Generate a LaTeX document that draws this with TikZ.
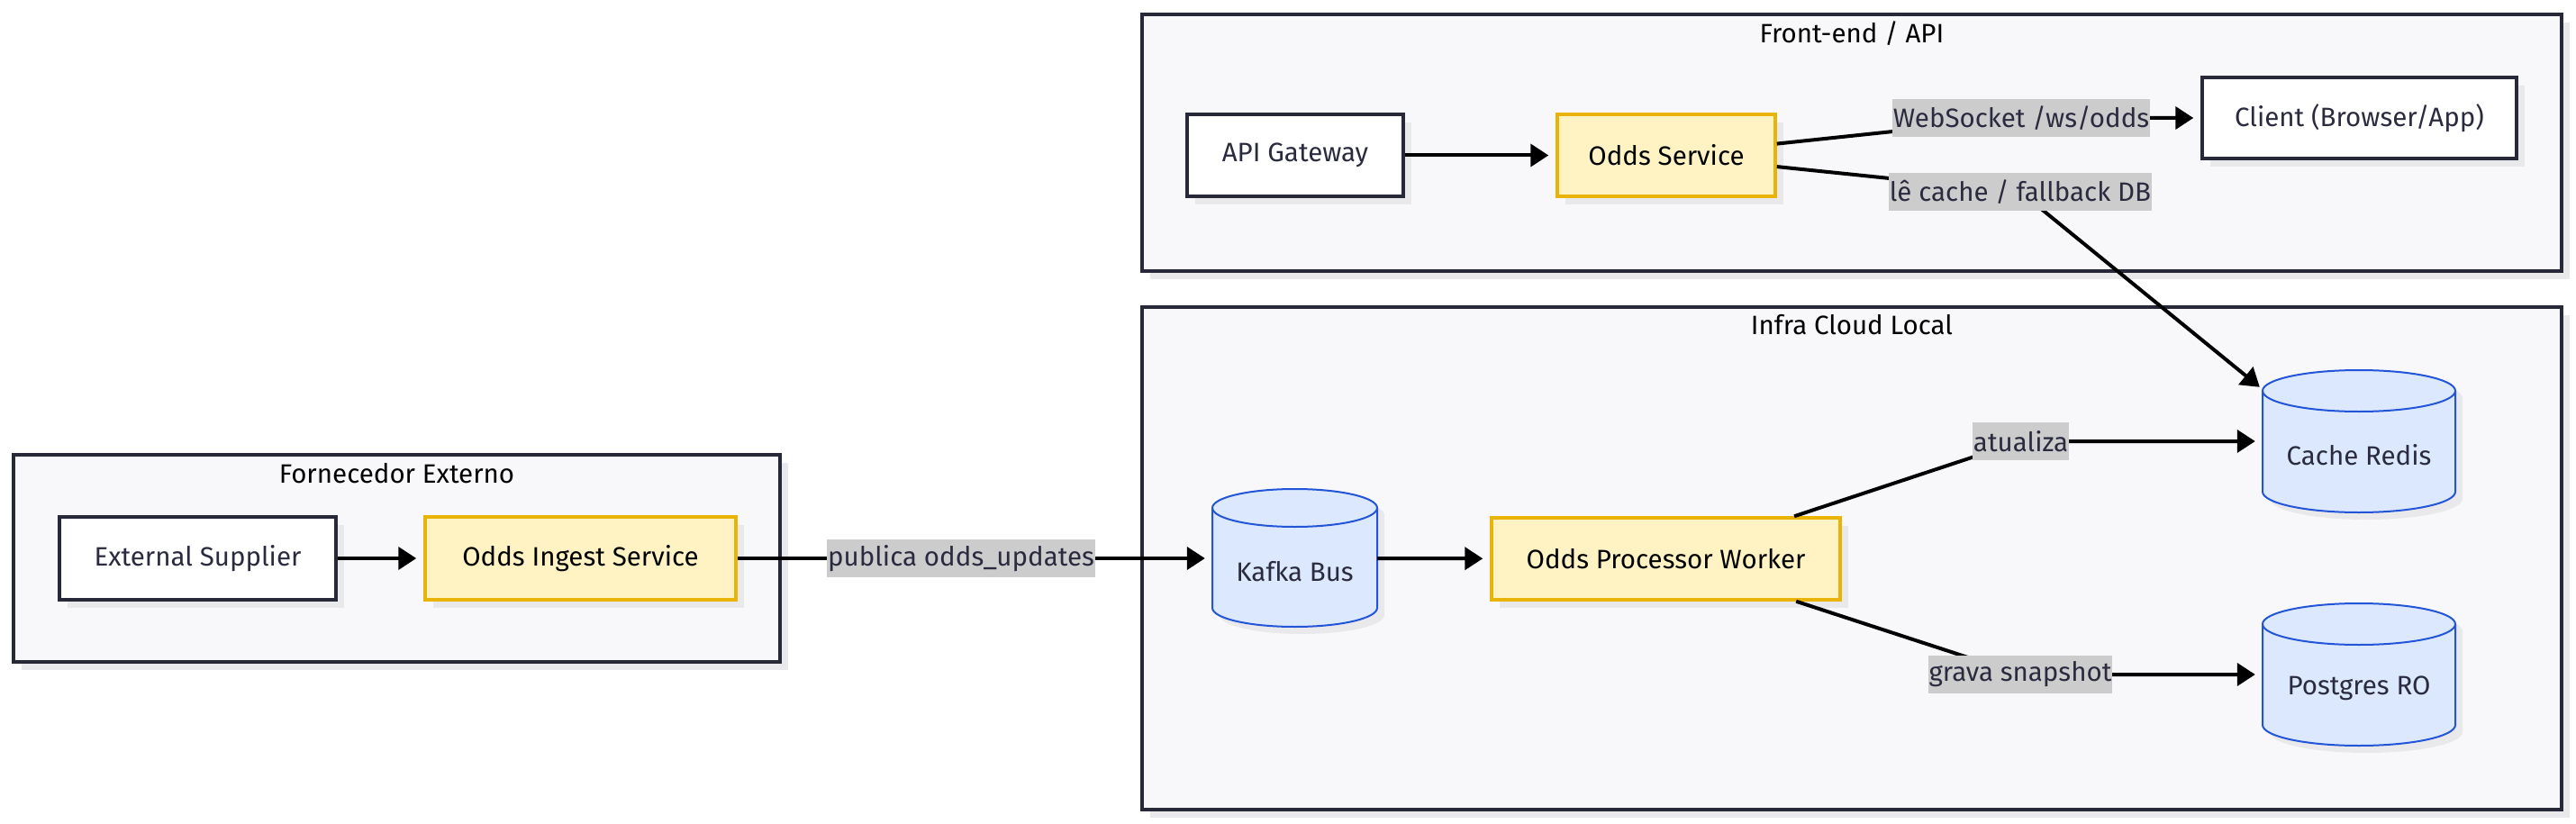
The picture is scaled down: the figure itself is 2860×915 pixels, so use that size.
\documentclass[tikz,border=0pt]{standalone}
\usepackage{fontspec}
\setmainfont{Fira Sans}
\usetikzlibrary{arrows.meta,shadows,calc}
\definecolor{clfill}{HTML}{F8F8FA}
\definecolor{navy}{HTML}{272838}
\definecolor{shadowc}{HTML}{E9E9EC}
\definecolor{yfill}{HTML}{FFF3C4}
\definecolor{yline}{HTML}{EAB308}
\definecolor{cfill}{HTML}{DBE8FD}
\definecolor{cline}{HTML}{2355D8}
\definecolor{lblbg}{HTML}{CCCCCC}
\definecolor{txt}{HTML}{2B2B40}
\newcommand\drawcyl[5]{%
 \fill[shadowc] ({#1-#4+8},{#2+8}) -- ({#1-#4+8},{#3+8}) arc[start angle=180,end angle=0,x radius=#4,y radius=#5] -- ({#1+#4+8},{#2+8}) arc[start angle=0,end angle=-180,x radius=#4,y radius=#5] -- cycle;
 \draw[cylline] ({#1-#4},{#2}) -- ({#1-#4},{#3}) arc[start angle=180,end angle=0,x radius=#4,y radius=#5] -- ({#1+#4},{#2}) arc[start angle=0,end angle=-180,x radius=#4,y radius=#5] -- cycle;
 \draw[cylline,fill=none] ({#1-#4},{#2}) arc[start angle=180,end angle=0,x radius=#4,y radius=#5];
}
\begin{document}
\begin{tikzpicture}[x=1pt,y=-1pt,
  every node/.style={font=\fontsize{29.5}{35}\selectfont},
  shad/.style={drop shadow={shadow xshift=9pt,shadow yshift=-9pt,fill=shadowc,opacity=1}},
  cluster/.style={shad,draw=navy,line width=3.5pt,fill=clfill,inner sep=0pt},
  ttl/.style={text=black,inner sep=0pt},
  wbox/.style={shad,draw=navy,line width=3.5pt,fill=white,text=txt,inner sep=0pt},
  ybox/.style={shad,draw=yline,line width=3.5pt,fill=yfill,text=black,inner sep=0pt},
  cylline/.style={draw=cline,line width=2pt,fill=cfill},
  holder/.style={inner sep=0pt},
  ctext/.style={text=txt,inner sep=0pt},
  lbl/.style={fill=lblbg,text=txt,inner xsep=1pt,inner ysep=0pt,minimum height=42pt},
  conn/.style={draw=black,line width=4pt,-{Triangle[length=20pt,width=25pt]},shorten >=8pt}
]
\path[use as bounding box] (0,0) rectangle (2860,915);
% clusters
\node[cluster,minimum width=1576,minimum height=285] (fe) at (2056,158.5) {};
\node[cluster,minimum width=1576,minimum height=558] (infra) at (2056,620) {};
\node[cluster,minimum width=851,minimum height=230] (fx) at (440.5,620) {};
\node[ttl] (fet) at (2056,37) {Front-end / API};
\node[ttl] (inft) at (2056,361) {Infra Cloud Local};
\node[ttl] (fxt) at (440.5,526) {Fornecedor Externo};
% boxes
\node[wbox,minimum width=240,minimum height=91] (gw) at (1438,172.5) {API Gateway};
\node[ybox,minimum width=242,minimum height=91] (os) at (1850,172.5) {Odds Service};
\node[wbox,minimum width=349,minimum height=90] (client) at (2619.5,131) {Client (Browser/App)};
\node[wbox,minimum width=307,minimum height=92] (ext) at (219.5,620) {External Supplier};
\node[ybox,minimum width=345,minimum height=92] (ing) at (644.5,620) {Odds Ingest Service};
\node[ybox,minimum width=387,minimum height=91] (proc) at (1849.5,620.5) {Odds Processor Worker};
% cylinders
\node[holder,minimum width=183,minimum height=154] (kafka) at (1437.5,620) {};
\drawcyl{1437.5}{564}{675}{91.5}{21}
\node[ctext] (kafkat) at (1437.5,635) {Kafka Bus};
\node[holder,minimum width=214,minimum height=158] (redis) at (2619,490) {};
\drawcyl{2619}{434}{546}{107}{23}
\node[ctext] (redist) at (2619,505) {Cache Redis};
\node[holder,minimum width=214,minimum height=158] (pg) at (2619,749) {};
\drawcyl{2619}{693}{805}{107}{23}
\node[ctext] (pgt) at (2619,764) {Postgres RO};
% label points
\coordinate (wsc) at (2244,131);
\coordinate (lcc) at (2243,213);
\coordinate (pubc) at (1067,620);
\coordinate (atc) at (2243.5,490);
\coordinate (grc) at (2243,749);
\coordinate (rtip) at ($(redis.north west)+(-3,19)$);
% connectors
\draw[conn] (ext) -- (ing);
\draw[conn] (ing) -- (pubc) -- (kafka);
\draw[conn] (kafka) -- (proc);
\draw[conn] (proc) -- (atc) -- (redis);
\draw[conn] (proc) -- (grc) -- (pg);
\draw[conn] (gw) -- (os);
\draw[conn] (os) -- (wsc) -- (client);
\draw[conn,shorten >=0pt] (os) -- (lcc) -- (rtip);
% labels
\node[lbl] (ws) at (wsc) {WebSocket /ws/odds};
\node[lbl] (lc) at (lcc) {lê cache / fallback DB};
\node[lbl] (pub) at (pubc) {publica odds\_updates};
\node[lbl] (at) at (atc) {atualiza};
\node[lbl] (gr) at (grc) {grava snapshot};
\end{tikzpicture}
\end{document}
